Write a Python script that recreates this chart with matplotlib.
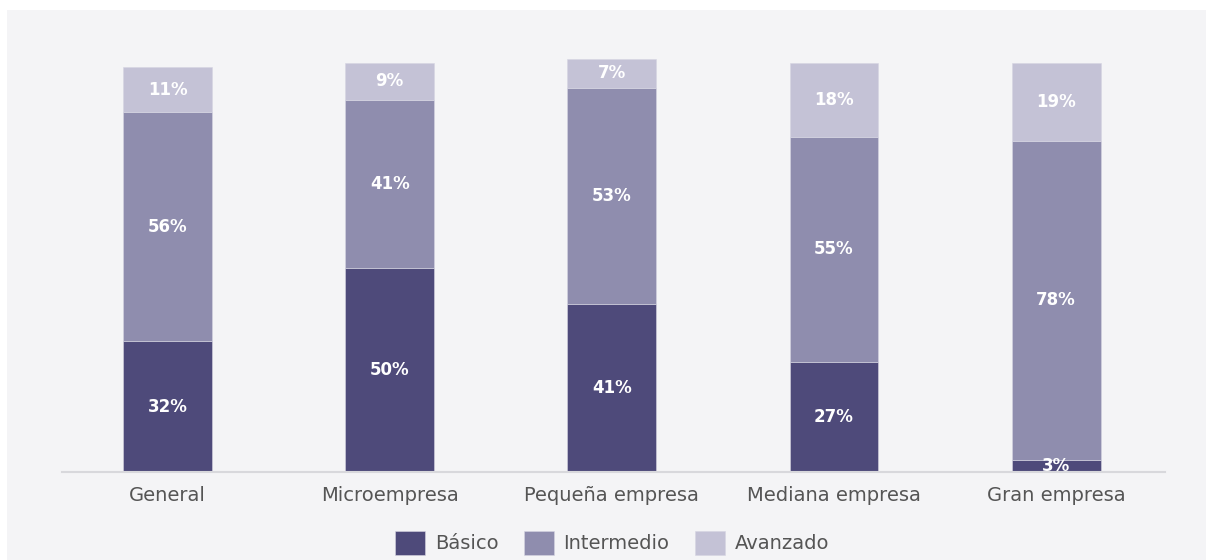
import matplotlib.pyplot as plt
import numpy as np
from matplotlib.patches import Rectangle

categories = ["General", "Microempresa", "Pequeña empresa", "Mediana empresa", "Gran empresa"]
basico = [32, 50, 41, 27, 3]
intermedio = [56, 41, 53, 55, 78]
avanzado = [11, 9, 7, 18, 19]
series_names = ["Básico", "Intermedio", "Avanzado"]

COLORS = ["#4e4a7a", "#8f8dae", "#c4c2d6"]
BG = "#f4f4f6"

plt.rcParams["font.family"] = ["DejaVu Sans"]

fig = plt.figure(figsize=(12.06, 5.6), dpi=100)
fig.patch.set_facecolor("white")
# gray panel behind the chart
fig.patches.append(Rectangle((7 / 1206, 0), 1 - 7 / 1206, 1 - 10 / 560,
                             transform=fig.transFigure, facecolor=BG,
                             edgecolor="none", zorder=-10))

ax = fig.add_axes([62 / 1206, 88 / 560, (1165 - 62) / 1206, (472 - 14) / 560])
ax.set_facecolor("none")

x = np.arange(len(categories))
bottom = np.zeros(len(categories))
for name, vals, color in zip(series_names, [basico, intermedio, avanzado], COLORS):
    vals = np.array(vals)
    ax.bar(x, vals, 0.4, bottom=bottom, color=color, label=name,
           edgecolor="#d6d5e2", linewidth=0.4)
    for xi, b, v in zip(x, bottom, vals):
        ax.text(xi, b + v / 2, f"{v}%", ha="center", va="center",
                color="white", fontsize=12, fontweight="bold")
    bottom += vals

ax.set_xlim(-0.475, 4.49)
ax.set_ylim(0, 112)
ax.set_xticks(x)
ax.set_xticklabels(categories, fontsize=14, color="#555555")
ax.tick_params(axis="x", length=0, pad=10)
ax.set_yticks([])
for side in ["top", "right", "left"]:
    ax.spines[side].set_visible(False)
ax.spines["bottom"].set_color("#d8d8dc")
ax.spines["bottom"].set_linewidth(1.5)

leg = fig.legend(loc="center", bbox_to_anchor=(612 / 1206, 1 - 543 / 560), ncol=3,
                 frameon=False, fontsize=14, handlelength=1.55, handleheight=1.45,
                 handletextpad=0.5, columnspacing=1.3)
for t in leg.get_texts():
    t.set_color("#555555")

fig.savefig("out.png", dpi=100, facecolor=fig.get_facecolor())
